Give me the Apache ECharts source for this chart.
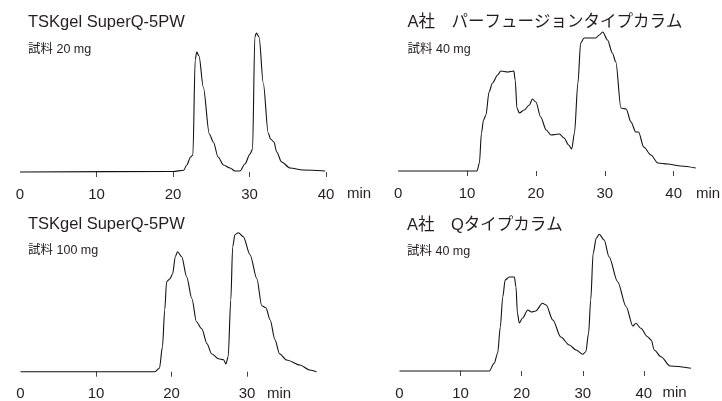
<!DOCTYPE html>
<html lang="ja">
<head>
<meta charset="UTF-8">
<title>クロマトグラム比較</title>
<script src="https://cdn.jsdelivr.net/npm/echarts@6/dist/echarts.min.js"></script>
<style>
    html, body { margin: 0; padding: 0; background: #fff; }
    #main { width: 722px; height: 401px; }
</style>
</head>
<body>
<div id="main"></div>
<script>
    // 溶出時間 (min) / 検出信号 (相対値)
    // TSKgel SuperQ-5PW 試料 20 mg
    var t1 = [0, 20, 21.4, 21.8, 22.3, 22.6, 22.9, 23.1, 23.4, 23.96, 24.75, 25.27, 25.9, 26.6, 27.45, 28.1, 28.76, 29.4, 30.07, 30.4, 30.7, 30.9, 31.25, 31.8, 32.45, 32.75, 33.2, 33.55, 34.2, 35.3, 37.0, 39.9];
    var v1 = [0, 0.5, 1.7, 7, 15, 17, 112, 120, 116, 85, 38, 30, 15, 7, 4, 1, 1, 8, 18, 23, 135, 139, 135, 89, 39, 33, 30, 20, 10, 4, 2, 1];

    // A社 パーフュージョンタイプカラム 試料 40 mg
    var t2 = [0, 11.45, 11.8, 12.1, 12.4, 12.75, 13.2, 13.7, 14.45, 14.9, 15.9, 16.8, 17.0, 17.25, 17.6, 18.3, 19.05, 19.5, 20.0, 20.7, 21.5, 22.2, 23.4, 24.1, 24.75, 25.2, 25.6, 26.1, 26.5, 27.0, 28.7, 29.2, 29.7, 30.4, 31.1, 31.6, 32.35, 33.1, 33.8, 34.5, 34.9, 35.65, 36.7, 37.7, 39.1, 41.05, 43.2];
    var v2 = [0, 0, 8, 38, 51, 56, 79, 88, 96, 100, 99, 100, 91, 63, 58, 61, 66, 72, 69, 54, 41, 36, 37, 33, 26, 22, 38, 88, 128, 133, 133, 136, 139, 131, 118, 109, 63, 62, 49, 39, 39, 24, 16, 8, 7, 5, 3];

    // TSKgel SuperQ-5PW 試料 100 mg
    var t3 = [0, 17.8, 18.4, 18.8, 19.1, 19.35, 19.8, 20.15, 20.5, 20.8, 21.35, 22.0, 22.7, 23.3, 24.0, 24.7, 25.3, 26.2, 26.9, 27.2, 27.5, 27.85, 28.1, 28.4, 28.85, 29.5, 30.4, 31.3, 31.95, 32.5, 33.05, 33.7, 34.3, 35.25, 37.0, 38.3, 39.2];
    var v3 = [0, 0, 3.5, 25, 62, 90, 93, 98, 115, 120, 115, 95, 73, 50, 43, 28, 18, 13, 12, 7.7, 15, 72, 125, 137, 139, 135, 117, 93, 66, 64, 52, 32, 18, 11.7, 6.7, 1.7, 0];

    // A社 Qタイプカラム 試料 40 mg
    var t4 = [0, 14.7, 15.5, 16.07, 16.5, 16.9, 17.3, 17.97, 18.8, 19.07, 19.3, 19.6, 20.15, 21.0, 21.6, 22.3, 23.4, 24.0, 25.1, 26.4, 27.8, 28.9, 30.0, 30.5, 30.95, 31.3, 31.7, 32.2, 32.7, 33.5, 34.3, 35.7, 37.1, 38.2, 38.7, 39.5, 40.6, 41.2, 41.7, 42.8, 44.3, 47.7];
    var v4 = [0, 0, 7.7, 18, 44, 74, 91, 94, 94, 84, 58, 48, 53, 61, 59, 60, 67.7, 66, 51, 34, 26, 21, 16.7, 19.3, 37.7, 71, 117.7, 132.7, 136.7, 131, 114.3, 89.3, 64.3, 45, 47.7, 42.7, 34.3, 31, 21, 14.3, 5, 2.7];

    var tickVals = [[10, 20, 30, 40], [10, 20, 30, 40], [10, 20, 30], [10, 20, 30, 40]];
    var labelVals = [[0, 10, 20, 30, 40], [0, 10, 20, 30, 40], [0, 10, 20, 30], [0, 10, 20, 30, 40]];
    var titles = ['TSKgel SuperQ-5PW', 'A社　パーフュージョンタイプカラム', 'TSKgel SuperQ-5PW', 'A社　Qタイプカラム'];
    var samples = ['試料 20 mg', '試料 40 mg', '試料 100 mg', '試料 40 mg'];
    var unitLabel = 'min';

    var font = "'Liberation Sans', Arial, 'Noto Sans CJK JP', sans-serif";
    var ink = '#231f20';

    function zip(t, v) {
        var res = [];
        for (var i = 0; i < t.length; i++) res.push([t[i], v[i]]);
        return res;
    }

    var lines = [zip(t1, v1), zip(t2, v2), zip(t3, v3), zip(t4, v4)];

    // 各パネルの配置
    var grids = [
        {left: 20, top: 22, width: 306, height: 150},
        {left: 398.1, top: 21, width: 298.3, height: 150},
        {left: 20.5, top: 221.7, width: 296, height: 150},
        {left: 399.5, top: 221, width: 291.4, height: 150}
    ];
    var xMax = [40, 43.3, 39.2, 47.7];
    var titlePos = [[28, 14.5], [407.5, 14.5], [28, 216], [407, 217]];
    var unitPos = [[347, 186.5], [696, 186.5], [267, 386], [662.5, 385.5]];

    var option = {
        backgroundColor: '#fff',
        animation: false,
        title: [],
        grid: [],
        xAxis: [],
        yAxis: [],
        series: []
    };

    for (var i = 0; i < 4; i++) {
        option.grid.push({
            left: grids[i].left, top: grids[i].top,
            width: grids[i].width, height: grids[i].height,
            outerBoundsMode: 'none'
        });
        option.xAxis.push({
            type: 'value',
            gridIndex: i,
            min: 0,
            max: xMax[i],
            offset: 1,
            axisLine: {show: false},
            splitLine: {show: false},
            axisTick: {
                show: true,
                length: 5,
                customValues: tickVals[i],
                lineStyle: {color: '#444', width: 1}
            },
            axisLabel: {
                customValues: labelVals[i],
                margin: 14,
                fontSize: 15,
                color: ink,
                fontFamily: font
            }
        });
        option.yAxis.push({
            type: 'value',
            gridIndex: i,
            min: 0,
            max: 150,
            show: false
        });
        option.series.push({
            type: 'line',
            xAxisIndex: i,
            yAxisIndex: i,
            data: lines[i],
            showSymbol: false,
            smooth: 0.3,
            smoothMonotone: 'x',
            clip: false,
            lineStyle: {color: '#111', width: 1.1}
        });
        option.title.push({
            left: titlePos[i][0],
            top: titlePos[i][1],
            padding: 0,
            itemGap: 12,
            text: titles[i],
            subtext: samples[i],
            textStyle: {fontSize: 16.5, fontWeight: 'normal', color: ink, fontFamily: font},
            subtextStyle: {fontSize: 12.5, color: ink, fontFamily: font}
        });
        option.title.push({
            left: unitPos[i][0],
            top: unitPos[i][1],
            padding: 0,
            text: unitLabel,
            textStyle: {fontSize: 15, fontWeight: 'normal', color: ink, fontFamily: font}
        });
    }

    var myChart = echarts.init(document.getElementById('main'));
    myChart.setOption(option);
</script>
</body>
</html>
